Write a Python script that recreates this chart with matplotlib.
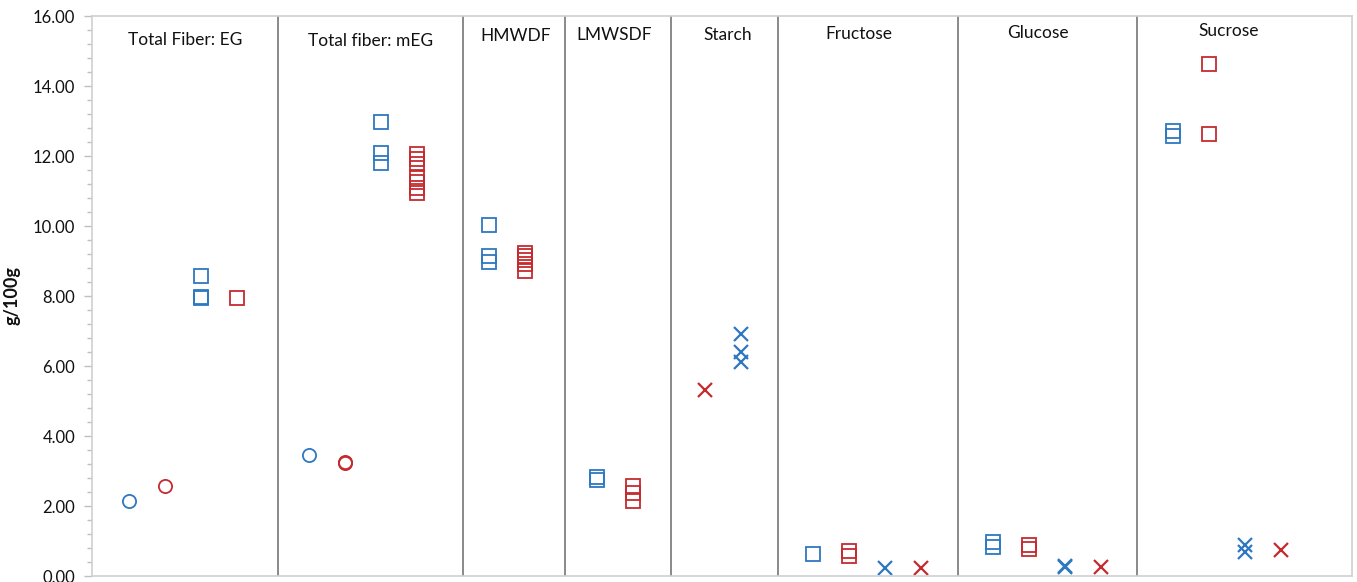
import matplotlib
matplotlib.use('Agg')
import matplotlib.pyplot as plt
from matplotlib.ticker import MultipleLocator, FormatStrFormatter

plt.rcParams['font.family'] = ['Lato', 'DejaVu Sans']

# 分组名称
categories = ["Total Fiber: EG", "Total fiber: mEG", "HMWDF", "LMWSDF",
              "Starch", "Fructose", "Glucose", "Sucrose"]

# 各组数据 (g/100g)
eg_blue_circle = [2.13]
eg_red_circle = [2.58]
eg_blue_square = [8.56, 7.96, 7.93]
eg_red_square = [7.94]

meg_blue_circle = [3.46]
meg_red_circle = [3.24, 3.27]
meg_blue_square = [12.98, 12.08, 11.80]
meg_red_square = [12.06, 11.92, 11.78, 11.41, 11.27, 11.10, 10.95]

hmwdf_blue_square = [10.03, 9.14, 8.96]
hmwdf_red_square = [9.24, 9.13, 9.03, 8.92, 8.72]

lmwsdf_blue_square = [2.84, 2.75]
lmwsdf_red_square = [2.56, 2.38, 2.13]

starch_red_x = [5.31]
starch_blue_x = [6.92, 6.40, 6.11]

fructose_blue_square = [0.62]
fructose_red_square = [0.71, 0.58]
fructose_blue_x = [0.24]
fructose_red_x = [0.24]

glucose_blue_square = [0.97, 0.84]
glucose_red_square = [0.88, 0.76]
glucose_blue_x = [0.30, 0.25]
glucose_red_x = [0.27]

sucrose_blue_square = [12.72, 12.58]
sucrose_red_square = [14.62, 12.63]
sucrose_blue_x = [0.88, 0.68]
sucrose_red_x = [0.75]

blue = '#2e78c2'
red = '#c42b2f'

# (x位置, 数据, 颜色, 标记)
series = [
    (1, eg_blue_circle, blue, 'o'),
    (2, eg_red_circle, red, 'o'),
    (3, eg_blue_square, blue, 's'),
    (4, eg_red_square, red, 's'),
    (6, meg_blue_circle, blue, 'o'),
    (7, meg_red_circle, red, 'o'),
    (8, meg_blue_square, blue, 's'),
    (9, meg_red_square, red, 's'),
    (11, hmwdf_blue_square, blue, 's'),
    (12, hmwdf_red_square, red, 's'),
    (14, lmwsdf_blue_square, blue, 's'),
    (15, lmwsdf_red_square, red, 's'),
    (17, starch_red_x, red, 'x'),
    (18, starch_blue_x, blue, 'x'),
    (20, fructose_blue_square, blue, 's'),
    (21, fructose_red_square, red, 's'),
    (22, fructose_blue_x, blue, 'x'),
    (23, fructose_red_x, red, 'x'),
    (25, glucose_blue_square, blue, 's'),
    (26, glucose_red_square, red, 's'),
    (27, glucose_blue_x, blue, 'x'),
    (28, glucose_red_x, red, 'x'),
    (30, sucrose_blue_square, blue, 's'),
    (31, sucrose_red_square, red, 's'),
    (32, sucrose_blue_x, blue, 'x'),
    (33, sucrose_red_x, red, 'x'),
]

separators = [5.17, 10.31, 13.14, 16.08, 19.06, 24.06, 29.03]
title_x = [2.6, 7.74, 11.77, 14.49, 17.66, 21.3, 26.27, 31.58]
title_y = [15.32, 15.29, 15.43, 15.46, 15.46, 15.49, 15.52, 15.57]

fig = plt.figure(figsize=(13.57, 5.82), dpi=100)
ax = fig.add_axes([0.0678, 0.0103, 0.9285, 0.9622])

for x, vals, color, marker in series:
    xs = [x + 0.03] * len(vals)
    if marker == 'x':
        ax.plot(xs, vals, linestyle='none', marker='x', color=color,
                markersize=9.5, markeredgewidth=1.6)
    else:
        ax.plot(xs, vals, linestyle='none', marker=marker, markerfacecolor='none',
                markeredgecolor=color, markersize=9.5, markeredgewidth=1.3)

# 分隔线
for s in separators:
    ax.axvline(s, color='#808080', linewidth=1.3)

for name, tx, ty in zip(categories, title_x, title_y):
    ax.text(tx, ty, name, ha='center', va='center', fontsize=12.5, color='#111111')

ax.set_xlim(0, 35)
ax.set_ylim(0, 16)
ax.yaxis.set_major_locator(MultipleLocator(2))
ax.yaxis.set_minor_locator(MultipleLocator(0.4))
ax.yaxis.set_major_formatter(FormatStrFormatter('%.2f'))
ax.set_xticks([])
ax.tick_params(axis='y', which='major', length=6, width=1, color='#bfbfbf',
               labelsize=12, labelcolor='#111111', pad=6)
ax.tick_params(axis='y', which='minor', length=3.5, width=1, color='#bfbfbf')
for sp in ax.spines.values():
    sp.set_color('#d0d0d0')
    sp.set_linewidth(1.2)

ax.set_ylabel('g/100g', fontsize=13, fontweight='bold', color='#111111')
ax.yaxis.set_label_coords(-0.057, 0.5)

fig.savefig('out.png', dpi=100)
